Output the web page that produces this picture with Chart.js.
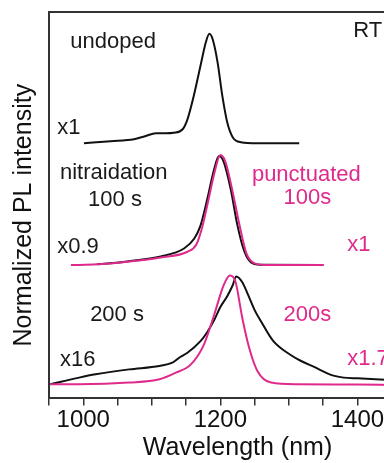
<!DOCTYPE html>
<html>
<head>
<meta charset="utf-8">
<script src="https://cdn.jsdelivr.net/npm/chart.js@4"></script>
<style>
  html, body { margin: 0; padding: 0; background: #fff; overflow: hidden; }
  #wrap { width: 384px; height: 463px; overflow: hidden; position: relative; }
  #wrap canvas { position: absolute; left: 0; top: 0; }
</style>
</head>
<body>
<div id="wrap"><canvas id="pl" width="430" height="480"></canvas></div>
<script>
// wavelength (nm) / offset-normalized intensity
const undopedWl = [1001, 1040, 1074, 1090, 1106, 1120, 1132, 1145, 1152, 1161, 1172, 1179, 1184, 1189, 1196, 1203, 1210, 1218, 1230, 1254, 1315];
const undopedI  = [2.56, 2.58, 2.60, 2.63, 2.66, 2.66, 2.665, 2.70, 2.80, 3.03, 3.37, 3.58, 3.66, 3.60, 3.37, 3.03, 2.77, 2.62, 2.57, 2.56, 2.56];

const nit100Wl = [1020, 1064, 1113, 1147, 1162, 1171, 1181, 1191, 1198, 1205, 1215, 1225, 1235, 1247, 1264, 1350];
const nit100I  = [1.34, 1.37, 1.42, 1.50, 1.60, 1.73, 2.00, 2.30, 2.43, 2.37, 2.10, 1.73, 1.47, 1.35, 1.335, 1.333];

const pun100Wl = [982, 1020, 1064, 1113, 1152, 1165, 1173, 1182, 1192, 1200, 1207, 1217, 1228, 1238, 1250, 1270, 1351];
const pun100I  = [1.333, 1.34, 1.367, 1.41, 1.467, 1.54, 1.70, 1.97, 2.28, 2.44, 2.38, 2.10, 1.733, 1.45, 1.35, 1.333, 1.333];

const nit200Wl = [952, 994, 1018, 1067, 1111, 1130, 1142, 1152, 1171, 1181, 1191, 1200, 1210, 1218, 1223, 1232, 1240, 1250, 1259, 1277, 1302, 1317, 1336, 1365, 1380, 1400, 1450];
const nit200I  = [0.133, 0.20, 0.233, 0.283, 0.317, 0.35, 0.41, 0.45, 0.567, 0.66, 0.78, 0.91, 1.02, 1.13, 1.217, 1.16, 1.04, 0.88, 0.77, 0.57, 0.43, 0.37, 0.31, 0.22, 0.20, 0.193, 0.175];

const pun200Wl = [952, 994, 1067, 1111, 1135, 1157, 1176, 1191, 1205, 1214, 1222, 1232, 1242, 1254, 1274, 1313, 1400, 1450];
const pun200I  = [0.133, 0.133, 0.15, 0.183, 0.25, 0.333, 0.533, 0.833, 1.133, 1.227, 1.167, 0.80, 0.50, 0.267, 0.15, 0.133, 0.13, 0.127];

// annotation text: [text, wavelength, intensity, colour key]
const labelTexts = ['undoped', 'RT', 'x1', 'nitraidation', '100 s', 'x0.9', 'punctuated', '100s', 'x1', '200 s', 'x16', '200s', 'x1.7'];
const labelWl    = [981, 1394, 962, 966, 1007, 962, 1246, 1292, 1385, 1010, 966, 1292, 1385];
const labelI     = [3.52, 3.63, 2.65, 2.20, 1.93, 1.45, 2.18, 1.95, 1.47, 0.77, 0.32, 0.77, 0.33];
const labelPink  = [false, false, false, false, false, false, true, true, true, false, false, true, true];

const FONT = "'Liberation Sans', Arial, sans-serif";
const BLACK = '#111111';
const PINK = '#df2a8c';

function zip(xs, ys) {
    return xs.map((x, i) => ({ x: x, y: ys[i] }));
}

function curve(xs, ys, color) {
    return {
        data: zip(xs, ys),
        borderColor: color,
        borderWidth: 2,
        pointRadius: 0,
        fill: false,
        cubicInterpolationMode: 'monotone'
    };
}

// draws the text labels at data positions
const labelPlugin = {
    id: 'labels',
    afterDatasetsDraw(chart) {
        const ctx = chart.ctx;
        const xs = chart.scales.x;
        const ys = chart.scales.y;
        ctx.save();
        ctx.font = '22px ' + FONT;
        ctx.textAlign = 'left';
        ctx.textBaseline = 'alphabetic';
        labelTexts.forEach((t, i) => {
            ctx.fillStyle = labelPink[i] ? PINK : '#1a1a1a';
            ctx.fillText(t, xs.getPixelForValue(labelWl[i]), ys.getPixelForValue(labelI[i]));
        });
        ctx.restore();
    }
};

new Chart(document.getElementById('pl'), {
    type: 'line',
    data: {
        datasets: [
            curve(undopedWl, undopedI, BLACK),
            curve(pun100Wl, pun100I, PINK),
            curve(nit100Wl, nit100I, BLACK),
            curve(pun200Wl, pun200I, PINK),
            curve(nit200Wl, nit200I, BLACK)
        ]
    },
    options: {
        responsive: false,
        animation: false,
        layout: { padding: { left: 9, right: 4, top: 12, bottom: 19 } },
        plugins: { legend: { display: false }, tooltip: { enabled: false } },
        scales: {
            x: {
                type: 'linear', min: 950, max: 1500, position: 'bottom',
                border: { color: '#333', width: 2 },
                grid: { drawOnChartArea: false, drawTicks: true, tickLength: 8, color: '#333', lineWidth: 1.5 },
                ticks: {
                    stepSize: 50, padding: 3, color: '#111', autoSkip: false, maxRotation: 0,
                    font: { family: FONT, size: 24, lineHeight: 1.0 },
                    callback: v => (v % 200 === 0 ? String(v) : '')
                },
                title: {
                    display: true, text: 'Wavelength (nm)', color: '#111',
                    font: { family: FONT, size: 25, lineHeight: 1.0 }, padding: { top: 0.5, bottom: 0 }
                }
            },
            xTop: {
                type: 'linear', min: 950, max: 1500, position: 'top',
                border: { color: '#333', width: 2 },
                grid: { drawOnChartArea: false, drawTicks: false },
                ticks: { display: false }
            },
            y: {
                min: 0, max: 3.88,
                border: { color: '#333', width: 2 },
                grid: { drawOnChartArea: false, drawTicks: false },
                ticks: { display: false },
                title: {
                    // trailing spaces nudge the title down a little
                    display: true, text: 'Normalized PL intensity   ', color: '#111',
                    font: { family: FONT, size: 25, lineHeight: 1.2 }, padding: { top: 0, bottom: 10 }
                }
            }
        }
    },
    plugins: [labelPlugin]
});
</script>
</body>
</html>
